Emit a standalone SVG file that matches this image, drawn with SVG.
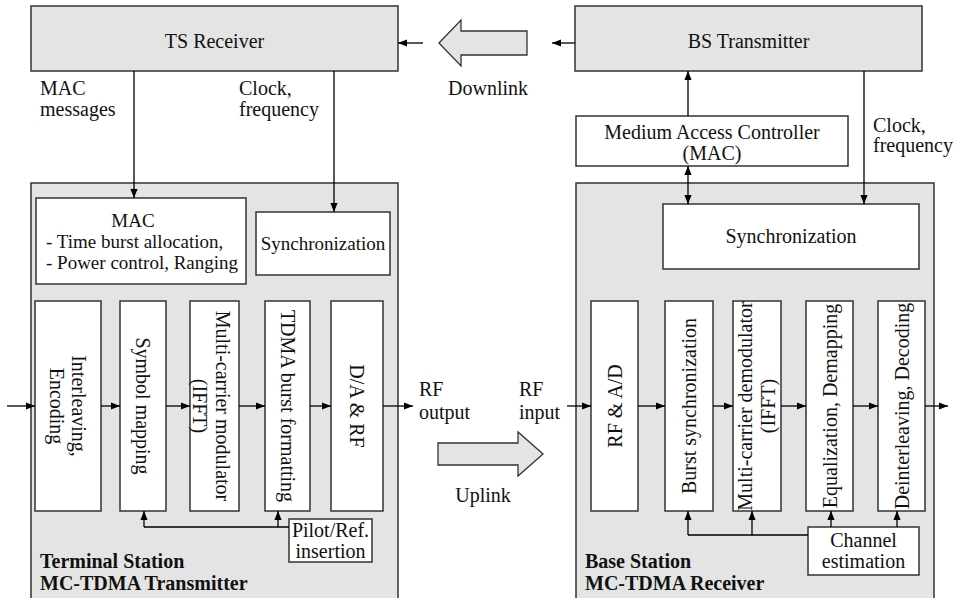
<svg xmlns="http://www.w3.org/2000/svg" width="961" height="598" viewBox="0 0 961 598">
<defs>
<marker id="ah" viewBox="0 0 10 10" refX="10" refY="5" markerWidth="9" markerHeight="9" markerUnits="userSpaceOnUse" orient="auto-start-reverse"><path d="M0,1 L10,5 L0,9 z" fill="#000"/></marker>
<style>
text{font-family:"Liberation Serif","Times New Roman",serif;font-size:20px;fill:#111}
.c{text-anchor:middle}
.s19{font-size:19px}
.b{font-weight:bold}
.gray{fill:#e4e4e4;stroke:#333;stroke-width:1.5}
.wht{fill:#fff;stroke:#333;stroke-width:1.5}
.big{fill:#e4e4e4;stroke:#333;stroke-width:1.3}
.ln{fill:none;stroke:#000;stroke-width:1.3}
.ar{fill:none;stroke:#000;stroke-width:1.3;marker-end:url(#ah)}
.ar2{fill:none;stroke:#000;stroke-width:1.3;marker-end:url(#ah);marker-start:url(#ah)}
</style>
</defs>

<!-- Outer station frames -->
<g id="ts-frame"><rect class="gray" x="31" y="183" width="367" height="430"/>
<text class="b" x="40" y="568">Terminal Station</text>
<text class="b" x="40" y="590">MC-TDMA Transmitter</text></g>
<g id="bs-frame"><rect class="gray" x="576" y="183" width="358" height="430"/>
<text class="b" x="585" y="568">Base Station</text>
<text class="b" x="585" y="590">MC-TDMA Receiver</text></g>

<!-- Top boxes -->
<g id="ts-receiver"><rect class="gray" x="31" y="6" width="367" height="65"/><text class="c" x="214.5" y="48">TS Receiver</text></g>
<g id="bs-transmitter"><rect class="gray" x="575" y="6" width="347" height="65"/><text class="c" x="748.5" y="48">BS Transmitter</text></g>
<g id="bs-mac"><rect class="wht" x="576" y="116" width="272" height="50"/><text class="c" x="712" y="139">Medium Access Controller</text><text class="c" x="712" y="160">(MAC)</text></g>

<!-- Big arrows -->
<g id="downlink"><polygon class="big" points="439,43 461,20 461,31 527,31 527,55 461,55 461,66"/><text class="c" x="488" y="95">Downlink</text></g>
<g id="uplink"><polygon class="big" points="543,454 518,432 518,443 438,443 438,465 518,465 518,476"/><text class="c" x="483" y="502">Uplink</text></g>

<!-- Terminal station blocks -->
<g id="ts-mac"><rect class="wht" x="36" y="198" width="210" height="86"/>
<text class="c s19" x="133" y="227">MAC</text>
<text class="s19" x="46" y="248">- Time burst allocation,</text>
<text class="s19" x="46" y="269">- Power control, Ranging</text></g>
<g id="ts-sync"><rect class="wht" x="256" y="212" width="134" height="63"/><text class="c s19" x="323" y="250">Synchronization</text></g>
<g id="ts-enc"><rect class="wht" x="35" y="301" width="66" height="210"/>
<text class="c" transform="translate(72,406) rotate(90)">Interleaving,</text>
<text class="c" transform="translate(50,406) rotate(90)">Encoding</text></g>
<g id="ts-map"><rect class="wht" x="120" y="301" width="46" height="210"/>
<text class="c" transform="translate(136,406) rotate(90)">Symbol mapping</text></g>
<g id="ts-mod"><rect class="wht" x="190" y="301" width="49" height="210"/>
<text class="c" transform="translate(216,406) rotate(90)">Multi-carrier modulator</text>
<text class="c" transform="translate(193,406) rotate(90)">(IFFT)</text></g>
<g id="ts-tdma"><rect class="wht" x="265" y="301" width="45" height="210"/>
<text class="c" transform="translate(281,406) rotate(90)">TDMA burst formatting</text></g>
<g id="ts-da"><rect class="wht" x="331" y="301" width="52" height="210"/>
<text class="c" transform="translate(350,406) rotate(90)">D/A &amp; RF</text></g>
<g id="ts-pilot"><rect class="wht" x="289" y="519" width="83" height="43"/>
<text class="c" x="330.5" y="537">Pilot/Ref.</text><text class="c" x="330.5" y="558">insertion</text></g>

<!-- Base station blocks -->
<g id="bs-sync"><rect class="wht" x="663" y="204" width="256" height="65"/><text class="c" x="791" y="243">Synchronization</text></g>
<g id="bs-rfad"><rect class="wht" x="591" y="301" width="47" height="210"/>
<text class="c" transform="translate(621.5,406) rotate(-90)">RF &amp; A/D</text></g>
<g id="bs-burst"><rect class="wht" x="665" y="301" width="48" height="210"/>
<text class="c" transform="translate(696,406) rotate(-90)">Burst synchronization</text></g>
<g id="bs-demod"><rect class="wht" x="733" y="301" width="48" height="210"/>
<text class="c" transform="translate(752,406) rotate(-90)">Multi-carrier demodulator</text>
<text class="c" transform="translate(775,406) rotate(-90)">(IFFT)</text></g>
<g id="bs-eq"><rect class="wht" x="806" y="301" width="47" height="210"/>
<text class="c" transform="translate(836.5,406) rotate(-90)">Equalization, Demapping</text></g>
<g id="bs-deint"><rect class="wht" x="878" y="301" width="47" height="210"/>
<text class="c" transform="translate(908.5,406) rotate(-90)">Deinterleaving, Decoding</text></g>
<g id="bs-chan"><rect class="wht" x="808" y="527" width="111" height="48"/>
<text class="c" x="863.5" y="547">Channel</text><text class="c" x="863.5" y="568">estimation</text></g>

<!-- Free labels -->
<g id="labels">
<text x="40" y="95">MAC</text><text x="40" y="116">messages</text>
<text x="239" y="95">Clock,</text><text x="239" y="116">frequency</text>
<text x="873" y="132">Clock,</text><text x="873" y="152">frequency</text>
<text x="419" y="396">RF</text><text x="419" y="419">output</text>
<text x="519" y="396">RF</text><text x="519" y="419">input</text>
</g>

<!-- Connectors -->
<g id="connectors">
<path class="ar" d="M423,43 H398"/>
<path class="ar" d="M575,43 H552"/>
<path class="ar" d="M134,71 V198"/>
<path class="ar" d="M334,71 V212"/>
<path class="ar" d="M7,406 H35"/>
<path class="ar" d="M101,406 H120"/>
<path class="ar" d="M166,406 H190"/>
<path class="ar" d="M239,406 H265"/>
<path class="ar" d="M310,406 H331"/>
<path class="ar" d="M383,406 H413"/>
<path class="ln" d="M289,527 H144"/>
<path class="ar" d="M144,527 V511"/>
<path class="ar" d="M278,527 V511"/>
<path class="ar" d="M688,116 V71"/>
<path class="ar2" d="M688,166 V204"/>
<path class="ar" d="M864,71 V204"/>
<path class="ar" d="M567,406 H591"/>
<path class="ar" d="M638,406 H665"/>
<path class="ar" d="M713,406 H733"/>
<path class="ar" d="M781,406 H806"/>
<path class="ar" d="M853,406 H878"/>
<path class="ar" d="M925,406 H948"/>
<path class="ln" d="M808,535 H688"/>
<path class="ar" d="M688,535 V511"/>
<path class="ar" d="M752,535 V511"/>
<path class="ar" d="M831,527 V511"/>
<path class="ar" d="M897,527 V511"/>
</g>
</svg>
